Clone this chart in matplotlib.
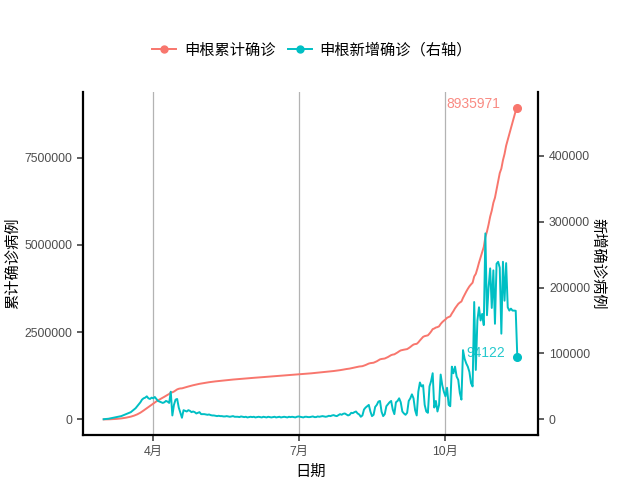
import numpy as np
import pandas as pd
import matplotlib
matplotlib.use("Agg")
import matplotlib.pyplot as plt
import matplotlib.dates as mdates
from matplotlib.lines import Line2D
from matplotlib.ticker import FixedLocator, FuncFormatter

plt.rcParams['font.family'] = ['Liberation Sans', 'Noto Sans CJK SC', 'DejaVu Sans']

# ---------------- data ----------------
start_date = "2020-03-01"
daily_new = [
    300, 500, 700, 1000, 1500, 2000, 2500,
    3000, 3500, 4000, 4500, 5000, 6000, 7000,
    8000, 9000, 10000, 11000, 13000, 15000, 17000,
    20000, 23000, 26000, 30000, 32000, 33000, 35000,
    32000, 31000, 33000, 32000, 34000, 31000, 28000,
    27000, 26000, 25000, 26000, 28000, 27000, 25000,
    42000, 6000, 22000, 30000, 31000, 18000, 10000,
    2500, 14000, 13000, 12000, 14000, 13000, 11000,
    12000, 11000, 9000, 10000, 11000, 8000, 8000,
    8000, 7500, 7000, 7500, 6500, 6000, 6000,
    5500, 5000, 5500, 5000, 5000, 4500, 4500,
    5000, 4500, 4000, 4500, 5000, 4000, 4000,
    4000, 3500, 4500, 4000, 3500, 4000, 3000,
    3500, 4000, 3500, 4000, 3000, 3500, 4000,
    3500, 3000, 4000, 3500, 3000, 4000, 3500,
    3000, 3500, 4000, 3000, 3500, 4000, 3000,
    3500, 4000, 3500, 3000, 4000, 3500, 4000,
    3500, 3000, 4000, 4500, 4000, 3500, 3000,
    4000, 4000, 3500, 3500, 4000, 4500, 3500,
    3500, 4500, 4000, 4500, 5000, 4500, 4000,
    4500, 5500, 5000, 6000, 6500, 5500, 5000,
    6500, 8000, 7000, 8500, 9000, 7500, 6000,
    7000, 10000, 9500, 11000, 12000, 9000, 7500,
    4000, 6000, 15000, 18000, 20000, 22000, 12000,
    5000, 7000, 19000, 22000, 27000, 28000, 11649,
    5000, 8000, 20000, 23000, 26000, 28000, 15000,
    8000, 26000, 28000, 32000, 26000, 12000, 9000,
    7000, 10000, 28000, 32000, 38000, 32000, 14000,
    6000, 42000, 56000, 50000, 52000, 22000, 12000,
    10000, 50000, 58000, 70000, 18000,
    28000, 12000, 22000, 68000, 52000, 42000, 35000,
    48000, 22000, 20000, 80000, 70000, 80000, 65000, 60000, 40000, 30000,
    105000, 92000, 85000, 80000, 72000, 55000, 50000, 178000,
    75000, 150000, 170000, 150000, 160000, 143000,
    282000, 158000, 200000, 229000, 169000,
    226000, 145000, 236000, 239000, 230000, 130000,
    239000, 180000, 237000, 170000, 165000, 168000, 165000,
    165000, 164700, 94122,
]
tick_dates = ["2020-04-01", "2020-07-01", "2020-10-01"]
tick_labels = ["4月", "7月", "10月"]
left_ticks = [0, 2500000, 5000000, 7500000]
right_ticks = [0, 100000, 200000, 300000, 400000]
series_names = ["申根累计确诊", "申根新增确诊（右轴）"]

dates = pd.date_range(start_date, periods=len(daily_new), freq="D")
daily = np.array(daily_new, dtype=float)
cumulative = np.cumsum(daily)

RED = "#F8766D"
CYAN = "#00BFC4"
scale_k = 18.9

# ---------------- figure ----------------
fig = plt.figure(figsize=(6.4, 4.8), dpi=100)
ax = fig.add_axes([83/640, 1-435/480, (538-83)/640, (435-92)/480])
ax2 = ax.twinx()

ax.plot(dates, cumulative, color=RED, lw=1.4, zorder=3)
ax.plot(dates[-1:], cumulative[-1:], 'o', color=RED, ms=5.5, zorder=4)
ax2.plot(dates, daily, color=CYAN, lw=1.4, zorder=3)
ax2.plot(dates[-1:], daily[-1:], 'o', color=CYAN, ms=5.5, zorder=4)

ax.annotate(f"{int(round(cumulative[-1]))}", xy=(dates[-1], cumulative[-1]),
            xytext=(-17, 4), textcoords='offset pixels', ha='right', va='center',
            color=RED, fontsize=10, alpha=0.85)
ax2.annotate(f"{int(round(daily[-1]))}", xy=(dates[-1], daily[-1]),
             xytext=(-12, 4), textcoords='offset pixels', ha='right', va='center',
             color=CYAN, fontsize=10, alpha=0.85)

# limits
span = (dates[-1] - dates[0]).days
pad = pd.Timedelta(days=span * 0.05)
ax.set_xlim(dates[0] - pad, dates[-1] + pad)
cmax = cumulative.max()
ylo, yhi = -0.05 * cmax, 1.05 * cmax
ax.set_ylim(ylo, yhi)
ax2.set_ylim(ylo / scale_k, yhi / scale_k)

# ticks
ax.xaxis.set_major_locator(FixedLocator(mdates.date2num(pd.to_datetime(tick_dates))))
ax.set_xticklabels(tick_labels)
ax.yaxis.set_major_locator(FixedLocator(left_ticks))
ax.yaxis.set_major_formatter(FuncFormatter(lambda v, p: f"{int(v)}"))
ax2.yaxis.set_major_locator(FixedLocator(right_ticks))
ax2.yaxis.set_major_formatter(FuncFormatter(lambda v, p: f"{int(v)}"))

for a in (ax, ax2):
    a.tick_params(axis='both', length=4.3, width=1.1, color='#333333',
                  labelcolor='#4D4D4D', labelsize=8.8, pad=3.6)
    a.set_facecolor('none')

ax.grid(axis='x', color='#B3B3B3', lw=0.9)
ax.set_axisbelow(True)

for a in (ax, ax2):
    a.spines['top'].set_visible(False)
ax.spines['right'].set_visible(False)
ax.spines['left'].set_linewidth(1.6)
ax.spines['bottom'].set_linewidth(1.6)
ax2.spines['left'].set_visible(False)
ax2.spines['bottom'].set_visible(False)
ax2.spines['right'].set_linewidth(1.6)

ax.set_xlabel("日期", fontsize=11, labelpad=5)
ax.set_ylabel("累计确诊病例", fontsize=11, labelpad=3)
ax2.set_ylabel("新增确诊病例", fontsize=11, rotation=270, labelpad=11)

handles = [Line2D([0], [0], color=RED, lw=1.4, marker='o', ms=5),
           Line2D([0], [0], color=CYAN, lw=1.4, marker='o', ms=5)]
fig.legend(handles, series_names, loc='center', bbox_to_anchor=(312/640, 1-50/480),
           ncol=2, frameon=False, fontsize=11, handlelength=1.6,
           handletextpad=0.5, columnspacing=0.8)

fig.savefig("out.png", dpi=100)
